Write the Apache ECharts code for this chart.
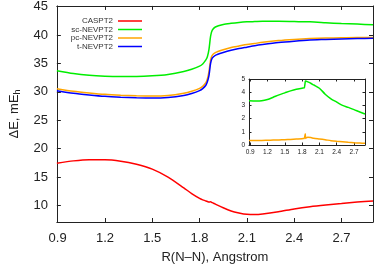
<!DOCTYPE html>
<html><head><meta charset="utf-8">
<script src="https://cdn.jsdelivr.net/npm/echarts@6/dist/echarts.min.js"></script>
<style>html,body{margin:0;padding:0;background:#fff}#c{width:374px;height:269px}</style>
</head><body><div id="c"></div>
<script>
const seriesNames = ['CASPT2','sc-NEVPT2','pc-NEVPT2','t-NEVPT2'];
const xMain = [0.895,1.0,1.1,1.2,1.3,1.4,1.5,1.6,1.7,1.75,1.8,1.82,1.84,1.85,1.86,1.87,1.88,1.9,1.95,2.0,2.05,2.1,2.15,2.2,2.3,2.4,2.5,2.6,2.7,2.8,2.9];
const caspt2 = [17.45,17.85,18.05,18.05,17.8,17.25,16.4,15.0,13.1,12.1,11.25,11.0,10.8,10.7,10.6,10.65,10.5,10.25,9.6,9.05,8.7,8.45,8.4,8.5,8.9,9.4,9.8,10.1,10.35,10.6,10.8];
const scNevpt2 = [33.7,33.2,32.9,32.75,32.7,32.7,32.8,33.05,33.55,33.95,34.5,34.9,35.6,36.2,37.5,39.8,40.8,41.4,41.85,42.05,42.2,42.3,42.35,42.4,42.4,42.35,42.3,42.15,42.0,41.9,41.8];
const pcNevpt2 = [30.55,30.1,29.8,29.55,29.4,29.3,29.25,29.35,29.75,30.1,30.6,30.95,31.6,32.3,33.6,35.6,36.4,36.9,37.4,37.8,38.05,38.3,38.5,38.7,39.0,39.2,39.35,39.45,39.5,39.55,39.55];
const tNevpt2 = [30.2,29.75,29.45,29.2,29.05,28.95,28.9,29.0,29.35,29.7,30.2,30.55,31.15,31.8,32.9,35.0,35.9,36.4,36.9,37.3,37.6,37.85,38.1,38.3,38.65,38.9,39.1,39.2,39.3,39.35,39.4];
const xInset = [0.88,1.0,1.1,1.2,1.3,1.4,1.5,1.6,1.7,1.8,1.84,1.85,1.855,1.86,1.87,1.9,1.95,2.0,2.1,2.2,2.3,2.4,2.5,2.6,2.7,2.8,2.89];
const insetSc = [3.36,3.33,3.35,3.45,3.62,3.8,3.95,4.1,4.22,4.3,4.33,4.35,4.8,4.85,4.83,4.78,4.68,4.55,4.3,3.85,3.5,3.25,3.0,2.85,2.68,2.5,2.35];
const insetPc = [0.35,0.35,0.35,0.36,0.37,0.38,0.4,0.42,0.45,0.48,0.5,0.5,0.85,0.5,0.55,0.58,0.56,0.52,0.46,0.4,0.33,0.28,0.24,0.2,0.17,0.15,0.13];
const xTicks = [0.9,1.2,1.5,1.8,2.1,2.4,2.7];
const yTicks = [10,15,20,25,30,35,40,45];
const insetYTicks = [0,1,2,3,4,5];

const colors = ['#ff0000','#00ee00','#ffa500','#0000ff'];
const FONT = 'Liberation Sans';
const pairs = (xs, ys) => xs.map((x,i)=>[x,ys[i]]);

const frame = {show:true, onZero:false, lineStyle:{color:'#222', width:1}};
function xAx(grid, min, max, pos, showLabels, fs, tickLen){
  return {type:'value', gridIndex:grid, min:min, max:max, position:pos,
    axisLine:frame, splitLine:{show:false},
    axisTick:{show:true, inside:true, length:tickLen, customValues:xTicks, lineStyle:{color:'#222'}},
    axisLabel:{show:showLabels, customValues:xTicks, fontFamily:FONT, fontSize:fs, color:'#222', margin: fs>10?10:4,
      showMinLabel:true, showMaxLabel:true, hideOverlap:false,
      formatter:v=>v.toFixed(1)}};
}
function yAx(grid, min, max, pos, showLabels, fs, ticks, tickLen){
  return {type:'value', gridIndex:grid, min:min, max:max, position:pos,
    axisLine:frame, splitLine:{show:false},
    axisTick:{show:true, inside:true, length:tickLen, customValues:ticks, lineStyle:{color:'#222'}},
    axisLabel:{show:showLabels, customValues:ticks, fontFamily:FONT, fontSize:fs, color:'#222', margin: fs>10?9:4,
      showMinLabel:true, showMaxLabel:true, hideOverlap:false}};
}

const mainX = xAx(0, 0.895, 2.9, 'bottom', true, 13, 4);
mainX.name = 'R(N\u2013N), Angstrom';
mainX.nameLocation = 'middle';
mainX.nameGap = 29;
mainX.nameTextStyle = {fontFamily:FONT, fontSize:13, color:'#222'};
const mainY = yAx(0, 7.1, 45.1, 'left', true, 13, yTicks, 4);
mainY.name = '{a|\u0394E, mE}{s|h}';
mainY.nameLocation = 'middle';
mainY.nameGap = 34;
mainY.nameTextStyle = {fontFamily:FONT, fontSize:13, color:'#222',
  rich:{a:{fontFamily:FONT, fontSize:13, color:'#222', lineHeight:16},
        s:{fontFamily:FONT, fontSize:9, color:'#222', lineHeight:16, verticalAlign:'bottom', padding:[5,0,0,0]}}};

const legendTop = [21, 29.5, 38, 46.5];
const legendGraphics = [];
seriesNames.forEach((n,i)=>{
  legendGraphics.push({type:'text', left:null, x:113, y:legendTop[i], z:20,
    style:{text:n, fill:'#333', font:'8px "Liberation Sans"', textAlign:'right', textVerticalAlign:'middle'}});
  legendGraphics.push({type:'line', z:20, shape:{x1:118, y1:legendTop[i], x2:142, y2:legendTop[i]},
    style:{stroke:colors[i], lineWidth:1.5}});
});

const option = {
  animation:false,
  backgroundColor:'#fff',
  grid:[
    {left:49, right:1, top:5, bottom:45.5, containLabel:false},
    {left:249, right:9, top:79, bottom:124, containLabel:false, show:true, backgroundColor:'#fff', borderWidth:0, z:5}
  ],
  graphic: legendGraphics,
  xAxis:[
    mainX,
    xAx(0, 0.895, 2.9, 'top', false, 13, 4),
    Object.assign(xAx(1, 0.88, 2.89, 'bottom', true, 6.5, 2.5), {z:6}),
    Object.assign(xAx(1, 0.88, 2.89, 'top', false, 6.5, 2.5), {z:6})
  ],
  yAxis:[
    mainY,
    yAx(0, 7.1, 45.1, 'right', false, 13, yTicks, 4),
    Object.assign(yAx(1, 0, 5, 'left', true, 6.5, insetYTicks, 2.5), {z:6}),
    Object.assign(yAx(1, 0, 5, 'right', false, 6.5, insetYTicks, 2.5), {z:6})
  ],
  series:[
    {name:'CASPT2', type:'line', xAxisIndex:0, yAxisIndex:0, data:pairs(xMain,caspt2)},
    {name:'sc-NEVPT2', type:'line', xAxisIndex:0, yAxisIndex:0, data:pairs(xMain,scNevpt2)},
    {name:'pc-NEVPT2', type:'line', xAxisIndex:0, yAxisIndex:0, data:pairs(xMain,pcNevpt2)},
    {name:'t-NEVPT2', type:'line', xAxisIndex:0, yAxisIndex:0, data:pairs(xMain,tNevpt2)},
    {name:'sc-inset', type:'line', xAxisIndex:2, yAxisIndex:2, data:pairs(xInset,insetSc), z:7},
    {name:'pc-inset', type:'line', xAxisIndex:2, yAxisIndex:2, data:pairs(xInset,insetPc), z:7}
  ].map((s,i)=>Object.assign(s,{
    showSymbol:false, symbol:'none', smooth:0.25,
    lineStyle:{width:1.5, color: colors[[0,1,2,3,1,2][i]]},
    itemStyle:{color: colors[[0,1,2,3,1,2][i]]}
  }))
};
const chart = echarts.init(document.getElementById('c'), null, {renderer:'canvas'});
chart.setOption(option);
</script>
</body></html>
